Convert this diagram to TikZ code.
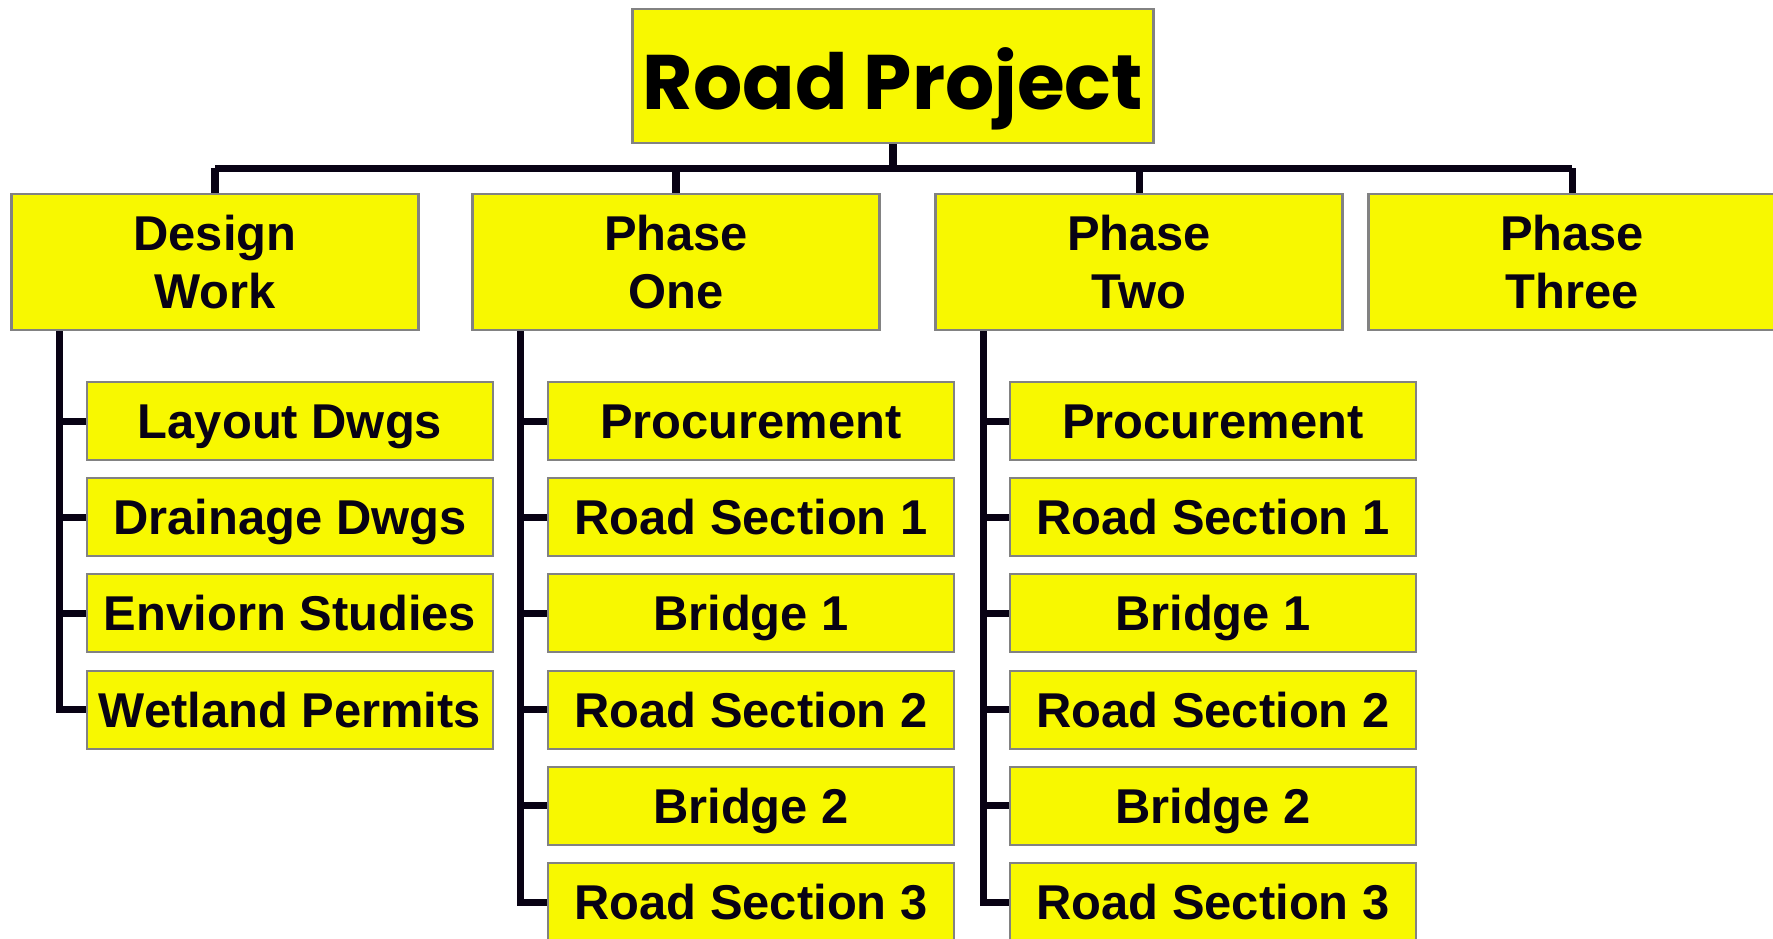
\documentclass[tikz,border=0pt]{standalone}
\usepackage{fontspec}
\setmainfont{Liberation Sans}
\newfontfamily\rootfont{Poppins}
\definecolor{boxyellow}{RGB}{248,248,0}
\definecolor{boxgray}{RGB}{130,130,130}
\definecolor{inkdark}{RGB}{8,2,20}
\newsavebox\myRoadTitleBox
\begin{document}
\sbox\myRoadTitleBox{\resizebox{5cm}{!}{\rootfont\bfseries\smash{Road Project}\vphantom{R}}}%
\begin{tikzpicture}[x=0.01cm,y=-0.01cm,
  box/.style={draw=boxgray,line width=0.6pt,fill=boxyellow,inner sep=0pt,align=center,
    text=inkdark,font=\fontsize{13.9}{16.5}\selectfont\bfseries},
  l2box/.style={box,minimum width=407*0.01cm,minimum height=136*0.01cm},
  l3box/.style={box,minimum width=406*0.01cm,minimum height=78*0.01cm,
    text height=9.95pt,text depth=0pt},
  link/.style={draw=inkdark,line width=2pt}]
\useasboundingbox (0,0) rectangle (1773,938);
% root
\node[draw=boxgray,line width=0.6pt,fill=boxyellow,inner sep=0pt,text=inkdark,
  minimum width=521*0.01cm,minimum height=134*0.01cm] (root) at (893,76)
  {\raisebox{0pt}[\dimexpr\ht\myRoadTitleBox+0.12cm\relax][0pt]{\usebox\myRoadTitleBox}};
% level 2
\node[l2box] (dw) at (215,262) {Design\\Work};
\node[l2box] (p1) at (676,262) {Phase\\One};
\node[l2box] (p2) at (1139,262) {Phase\\Two};
\node[l2box] (p3) at (1572,262) {Phase\\Three};
% level 3
\foreach \i/\t in {1/Layout Dwgs,2/Drainage Dwgs,3/Enviorn Studies,4/Wetland Permits}
  \node[l3box] (dw\i) at (290,{421+(\i-1)*96.2}) {\t};
\foreach \i/\t in {1/Procurement,2/Road Section 1,3/Bridge 1,4/Road Section 2,5/Bridge 2,6/Road Section 3}{
  \node[l3box] (pa\i) at (751,{421+(\i-1)*96.2}) {\t};
  \node[l3box] (pb\i) at (1213,{421+(\i-1)*96.2}) {\t};
}
% connectors level 1-2
\coordinate (bar) at (893,168);
\draw[link] (root.south) -- (bar);
\draw[link] (dw.north |- bar) -- (p3.north |- bar);
\foreach \n in {dw,p1,p2,p3}
  \draw[link] (\n.north |- bar) -- (\n.north);
% spines
\coordinate (sdw) at ([xshift=0.49cm]dw.south west);
\coordinate (sp1) at ([xshift=0.49cm]p1.south west);
\coordinate (sp2) at ([xshift=0.49cm]p2.south west);
\draw[link] (sdw) |- (dw4.west);
\foreach \i in {1,2,3} \draw[link] (dw\i.west -| sdw) -- (dw\i.west);
\draw[link] (sp1) |- (pa6.west);
\draw[link] (sp2) |- (pb6.west);
\foreach \i in {1,...,5}{
  \draw[link] (pa\i.west -| sp1) -- (pa\i.west);
  \draw[link] (pb\i.west -| sp2) -- (pb\i.west);
}
\end{tikzpicture}
\end{document}
